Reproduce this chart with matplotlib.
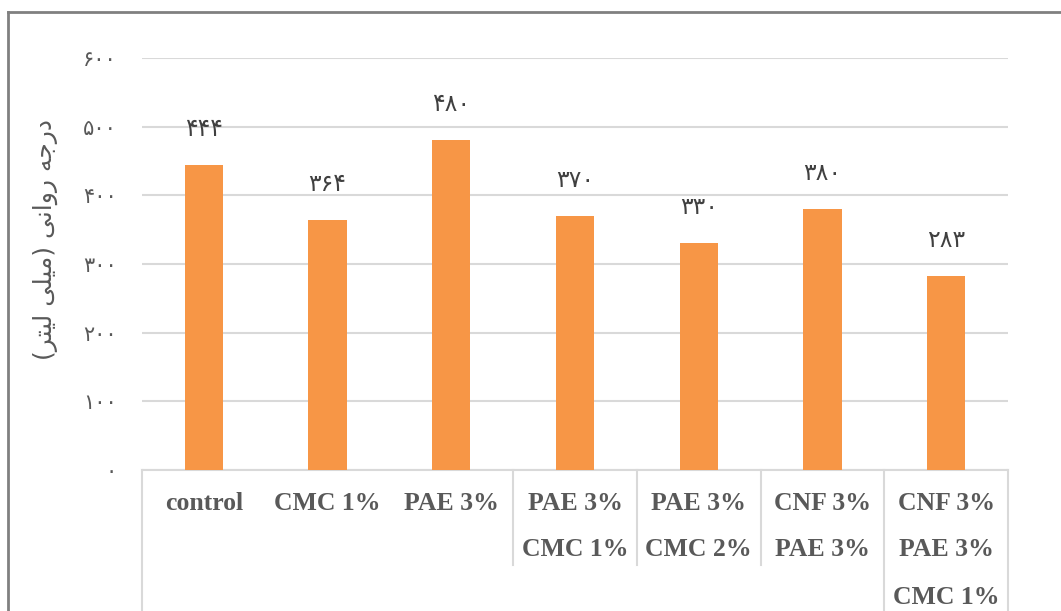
import matplotlib
matplotlib.use("Agg")
import matplotlib.pyplot as plt
from matplotlib.lines import Line2D
import matplotlib.transforms as mtransforms

# data
categories = [
    ["control"],
    ["CMC 1%"],
    ["PAE 3%"],
    ["PAE 3%", "CMC 1%"],
    ["PAE 3%", "CMC 2%"],
    ["CNF 3%", "PAE 3%"],
    ["CNF 3%", "PAE 3%", "CMC 1%"],
]
values = [444, 364, 480, 370, 330, 380, 283]
yticks = [0, 100, 200, 300, 400, 500, 600]
ytitle = "درجه روانی (میلی لیتر)"

# persian digits
fa_digits = str.maketrans("0123456789", "۰۱۲۳۴۵۶۷۸۹")


def fa(n):
    return str(n).translate(fa_digits)


# very small arabic shaper for the letters in the title
# letter: (isolated, final, initial, medial)
forms = {
    "ا": ("\uFE8D", "\uFE8E", None, None),
    "د": ("\uFEA9", "\uFEAA", None, None),
    "ر": ("\uFEAD", "\uFEAE", None, None),
    "و": ("\uFEED", "\uFEEE", None, None),
    "ج": ("\uFE9D", "\uFE9E", "\uFE9F", "\uFEA0"),
    "ه": ("\uFEE9", "\uFEEA", "\uFEEB", "\uFEEC"),
    "ن": ("\uFEE5", "\uFEE6", "\uFEE7", "\uFEE8"),
    "ی": ("\uFEEF", "\uFEF0", "\uFEF3", "\uFEF4"),
    "م": ("\uFEE1", "\uFEE2", "\uFEE3", "\uFEE4"),
    "ل": ("\uFEDD", "\uFEDE", "\uFEDF", "\uFEE0"),
    "ت": ("\uFE95", "\uFE96", "\uFE97", "\uFE98"),
}


def shape_rtl(s):
    out = []
    for i, ch in enumerate(s):
        if ch not in forms:
            out.append(ch)
            continue
        prev = s[i - 1] if i > 0 else ""
        nxt = s[i + 1] if i + 1 < len(s) else ""
        join_prev = prev in forms and forms[prev][2] is not None
        join_next = nxt in forms and forms[ch][2] is not None
        iso, fin, ini, med = forms[ch]
        if join_prev and join_next:
            out.append(med)
        elif join_prev:
            out.append(fin)
        elif join_next:
            out.append(ini)
        else:
            out.append(iso)
    vis = "".join(reversed(out))
    return vis.translate(str.maketrans("()", ")("))


W, H = 1061, 611
fig = plt.figure(figsize=(W / 100, H / 100), dpi=100)

x0, x1 = 142, 1008
ytop, ybot = 58, 470
ax = fig.add_axes([x0 / W, (H - ybot) / H, (x1 - x0) / W, (ybot - ytop) / H])

bar_color = "#F79646"
grid_color = "#D9D9D9"
text_color = "#595959"

xs = list(range(len(values)))
ax.bar(xs, values, width=0.31, color=bar_color, zorder=3)
ax.set_xlim(-0.5, len(values) - 0.5)
ax.set_ylim(0, 600)

ax.set_yticks(yticks)
ax.set_yticklabels([fa(v) for v in yticks], fontsize=15, color=text_color,
                   family="DejaVu Sans")
ax.tick_params(axis="y", length=0, pad=18)
ax.set_xticks([])
ax.grid(axis="y", color=grid_color, linewidth=1.5, zorder=0)
for s in ["top", "right", "left"]:
    ax.spines[s].set_visible(False)
ax.spines["bottom"].set_color(grid_color)
ax.spines["bottom"].set_linewidth(1.5)

for x, v in zip(xs, values):
    ax.annotate(fa(v), (x, v), xytext=(0, 36), textcoords="offset pixels",
                ha="center", va="center", fontsize=17, color="#404040",
                family="DejaVu Sans")

# category labels, one line per text
for x, lines in zip(xs, categories):
    for j, line in enumerate(lines):
        ax.annotate(line, (x, 0), xycoords=("data", "axes fraction"),
                    xytext=(0, -33 - 47 * j), textcoords="offset pixels",
                    ha="center", va="center", fontsize=18.5, fontweight="bold",
                    family="Liberation Serif", color=text_color,
                    annotation_clip=False)

# multi-level separators
trans = mtransforms.blended_transform_factory(ax.transData, ax.transAxes)
seps = [(-0.5, -0.4), (2.5, -0.2306), (3.5, -0.2306), (4.5, -0.2306),
        (5.5, -0.4), (6.5, -0.4)]
for sx, sy in seps:
    ax.plot([sx, sx], [0, sy], color=grid_color, linewidth=1.5,
            transform=trans, clip_on=False)

ax.text((45 - x0) / (x1 - x0), 0.56, shape_rtl(ytitle), transform=ax.transAxes,
        rotation=90, ha="center", va="center", fontsize=18, color=text_color,
        family="DejaVu Sans")

# outer chart frame (cut off at right and bottom)
fig.add_artist(Line2D([8 / W, 8 / W], [0, (H - 12) / H], color="#808080",
                      linewidth=2, transform=fig.transFigure))
fig.add_artist(Line2D([8 / W, 1], [(H - 12) / H, (H - 12) / H], color="#808080",
                      linewidth=2, transform=fig.transFigure))

fig.savefig("out.png", dpi=100)
